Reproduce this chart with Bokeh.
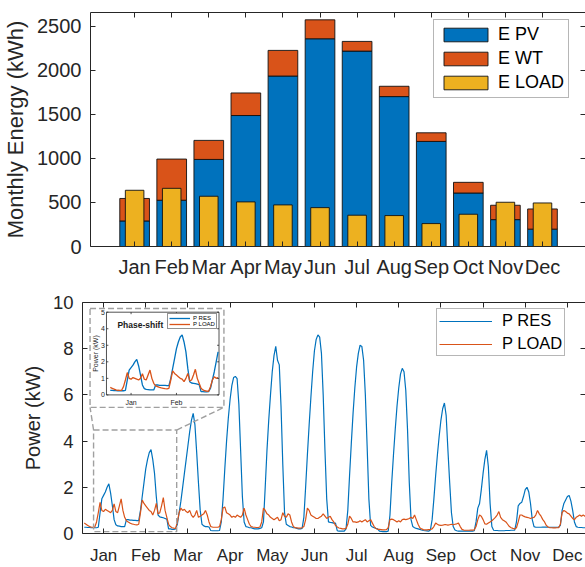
import numpy as np
from bokeh.plotting import figure
from bokeh.models import (Range1d, LinearAxis, FixedTicker, Legend, LegendItem,
                          ColumnDataSource)
from bokeh.embed import file_html
from bokeh.resources import INLINE
from bokeh.core.properties import value

# ---------------- data ----------------
MONTHS = ["Jan", "Feb", "Mar", "Apr", "May", "Jun",
          "Jul", "Aug", "Sep", "Oct", "Nov", "Dec"]
E_PV = [290, 525, 988, 1486, 1934, 2357, 2217, 1701, 1192, 607, 305, 197]
E_WT = [255, 467, 216, 256, 291, 215, 110, 117, 98, 121, 163, 229]
E_LOAD = [638, 660, 570, 506, 472, 441, 355, 351, 260, 366, 502, 494]

# hourly profiles, one representative day (24 h) per month
P_RES = [
    0.27, 0.27, 0.26, 0.26, 0.25, 0.25, 0.25, 0.25, 0.27, 0.9, 1.5, 1.65, 1.8, 2.0, 2.15, 1.75, 1.2, 0.6, 0.38, 0.33, 0.32, 0.3, 0.3, 0.3,
    0.6, 0.6, 0.58, 0.58, 0.57, 0.57, 0.56, 0.56, 1.0, 1.6, 2.2, 2.8, 3.2, 3.5, 3.63, 3.2, 2.6, 1.6, 0.8, 0.72, 0.7, 0.68, 0.65, 0.62,
    0.2, 0.2, 0.18, 0.18, 0.2, 0.4, 0.9, 1.4, 2.0, 2.6, 3.2, 3.8, 4.4, 4.9, 5.2, 4.7, 3.5, 2.2, 1.0, 0.4, 0.33, 0.3, 0.3, 0.28,
    0.13, 0.12, 0.12, 0.12, 0.12, 0.13, 0.5, 1.5, 2.8, 4.0, 5.0, 5.8, 6.4, 6.75, 6.8, 6.7, 5.6, 3.6, 1.6, 0.5, 0.3, 0.28, 0.25, 0.25,
    0.22, 0.2, 0.2, 0.2, 0.22, 0.25, 0.5, 2.0, 3.6, 4.9, 6.0, 7.0, 7.7, 8.1, 7.5, 7.3, 5.5, 3.0, 0.9, 0.4, 0.35, 0.3, 0.28, 0.25,
    0.25, 0.22, 0.2, 0.2, 0.22, 0.7, 2.0, 3.4, 4.7, 5.9, 7.0, 7.9, 8.4, 8.6, 8.5, 7.8, 6.0, 3.6, 1.5, 0.5, 0.48, 0.47, 0.45, 0.45,
    0.12, 0.1, 0.1, 0.1, 0.1, 0.2, 1.0, 2.5, 3.9, 5.2, 6.3, 7.2, 7.8, 8.15, 8.1, 7.5, 6.0, 3.8, 1.5, 0.35, 0.28, 0.25, 0.22, 0.2,
    0.1, 0.09, 0.08, 0.08, 0.08, 0.1, 0.8, 2.2, 3.4, 4.5, 5.5, 6.3, 6.9, 7.15, 7.0, 6.2, 4.5, 2.2, 0.6, 0.3, 0.25, 0.22, 0.2, 0.18,
    0.15, 0.13, 0.12, 0.11, 0.1, 0.15, 0.6, 1.5, 2.5, 3.4, 4.2, 4.9, 5.4, 5.65, 5.1, 3.6, 2.2, 0.9, 0.3, 0.15, 0.12, 0.1, 0.1, 0.1,
    0.1, 0.1, 0.1, 0.1, 0.1, 0.1, 0.12, 0.5, 1.1, 1.3, 1.9, 2.6, 3.2, 3.6, 2.9, 1.3, 0.3, 0.14, 0.13, 0.13, 0.12, 0.12, 0.12, 0.12,
    0.13, 0.13, 0.13, 0.14, 0.14, 0.15, 0.5, 1.2, 1.3, 1.35, 1.6, 1.9, 2.0, 1.8, 1.3, 0.6, 0.3, 0.27, 0.27, 0.27, 0.27, 0.28, 0.28, 0.28,
    0.27, 0.27, 0.27, 0.27, 0.27, 0.27, 0.27, 0.35, 1.0, 1.3, 1.45, 1.6, 1.65, 1.4, 1.0, 0.5, 0.3, 0.27, 0.26, 0.26, 0.25, 0.25, 0.25, 0.25,
]
P_LOAD = [
    0.45, 0.4, 0.35, 0.3, 0.28, 0.27, 0.28, 0.5, 0.9, 1.35, 1.0, 0.95, 1.05, 1.0, 0.95, 0.9, 1.0, 1.28, 0.95, 0.9, 1.2, 1.5, 1.0, 0.7,
    0.55, 0.5, 0.45, 0.42, 0.4, 0.38, 0.37, 0.4, 0.9, 1.45, 1.3, 1.2, 1.1, 1.0, 0.95, 0.8, 1.0, 1.3, 0.85, 0.9, 1.2, 1.55, 1.0, 0.7,
    0.4, 0.3, 0.25, 0.23, 0.22, 0.5, 0.9, 1.1, 1.0, 1.05, 0.95, 0.9, 1.0, 0.8, 0.7, 0.8, 1.0, 0.7, 0.75, 0.8, 0.85, 1.0, 0.8, 0.5,
    0.3, 0.28, 0.27, 0.27, 0.27, 0.3, 0.6, 1.1, 1.15, 0.9, 0.85, 0.8, 0.7, 0.75, 0.7, 0.8, 0.75, 0.7, 0.8, 1.1, 0.8, 0.6, 0.4, 0.3,
    0.28, 0.27, 0.26, 0.26, 0.28, 0.5, 1.1, 1.0, 0.85, 0.8, 0.7, 0.65, 0.6, 0.65, 0.7, 0.55, 0.6, 0.9, 0.75, 0.7, 0.85, 0.8, 0.5, 0.3,
    0.25, 0.24, 0.23, 0.23, 0.25, 0.3, 0.6, 1.1, 1.0, 0.8, 0.75, 0.7, 0.65, 0.65, 0.7, 0.75, 0.85, 0.75, 0.65, 0.7, 0.75, 0.6, 0.5, 0.35,
    0.28, 0.24, 0.22, 0.2, 0.2, 0.22, 0.4, 0.75, 0.65, 0.5, 0.5, 0.48, 0.5, 0.55, 0.5, 0.55, 0.6, 0.5, 0.55, 0.6, 0.45, 0.3, 0.22, 0.18,
    0.18, 0.17, 0.16, 0.16, 0.17, 0.25, 0.6, 0.62, 0.6, 0.55, 0.5, 0.55, 0.5, 0.6, 0.62, 0.6, 0.62, 0.65, 0.7, 0.65, 0.8, 0.6, 0.4, 0.25,
    0.2, 0.17, 0.16, 0.16, 0.17, 0.18, 0.2, 0.3, 0.45, 0.4, 0.36, 0.35, 0.36, 0.38, 0.38, 0.36, 0.38, 0.4, 0.38, 0.4, 0.42, 0.45, 0.3, 0.18,
    0.15, 0.14, 0.14, 0.14, 0.15, 0.15, 0.16, 0.3, 0.6, 0.8, 0.75, 0.6, 0.42, 0.4, 0.45, 0.5, 0.55, 0.62, 0.7, 0.8, 0.95, 0.7, 0.6, 0.55,
    0.5, 0.4, 0.3, 0.25, 0.22, 0.2, 0.25, 0.5, 0.8, 0.8, 0.75, 0.72, 0.7, 0.68, 0.65, 0.68, 0.7, 0.8, 1.0, 0.85, 0.75, 0.6, 0.5, 0.35,
    0.28, 0.25, 0.25, 0.24, 0.24, 0.25, 0.25, 0.4, 0.9, 1.0, 0.95, 0.88, 0.85, 0.75, 0.65, 0.6, 0.7, 0.75, 0.8, 0.75, 0.8, 0.75, 0.7, 0.7,
]
HOURS = list(range(1, len(P_RES) + 1))
MONTH_TICKS_H = [12 + 24 * i for i in range(12)]

# ---------------- style ----------------
FONT = "Liberation Sans"
AX = "#262626"
C_BLUE = "#0072BD"
C_RED = "#D95319"
C_YEL = "#EDB120"
DASH_C = "#a0a0a0"


def frame_axis(ticks, line=True):
    ax = LinearAxis(ticker=FixedTicker(ticks=ticks),
                    major_label_overrides={t: "" for t in ticks},
                    major_label_text_font_size="0px", major_label_standoff=0,
                    major_tick_in=5, major_tick_out=0,
                    minor_tick_in=0, minor_tick_out=0,
                    axis_line_color=AX if line else None,
                    major_tick_line_color=AX)
    return ax


def style_main_axis(ax, size, standoff):
    ax.major_label_text_font = FONT
    ax.major_label_text_font_size = size
    ax.major_label_text_color = AX
    ax.major_label_standoff = standoff
    ax.major_tick_in = 5
    ax.major_tick_out = 0
    ax.minor_tick_in = 0
    ax.minor_tick_out = 0
    ax.axis_line_color = AX
    ax.major_tick_line_color = AX


# ---------------- top: monthly energy ----------------
p1 = figure(width=585, height=280, x_range=Range1d(-0.19, 13.16), y_range=Range1d(0, 2655),
            output_backend="svg", toolbar_location=None,
            min_border_left=90, min_border_right=0, min_border_top=12, min_border_bottom=33)
p1.grid.visible = False
p1.outline_line_color = None
p1.background_fill_color = "white"

xm = list(range(1, 13))
src = ColumnDataSource(dict(x=xm, pv=E_PV, tot=list(np.add(E_PV, E_WT)), load=E_LOAD))
r_pv = p1.vbar(x="x", bottom=0, top="pv", width=0.8, source=src,
               fill_color=C_BLUE, line_color="#111111", line_width=0.9)
r_wt = p1.vbar(x="x", bottom="pv", top="tot", width=0.8, source=src,
               fill_color=C_RED, line_color="#111111", line_width=0.9)
r_ld = p1.vbar(x="x", bottom=0, top="load", width=0.5, source=src,
               fill_color=C_YEL, line_color="#111111", line_width=0.9)

xa = p1.xaxis[0]
xa.ticker = FixedTicker(ticks=xm)
xa.major_label_overrides = {i + 1: m for i, m in enumerate(MONTHS)}
style_main_axis(xa, "20px", 9)
ya = p1.yaxis[0]
ya.ticker = FixedTicker(ticks=[0, 500, 1000, 1500, 2000, 2500])
style_main_axis(ya, "20px", 9)
ya.axis_label = "Monthly Energy (kWh)"
ya.axis_label_text_font = FONT
ya.axis_label_text_font_size = "22px"
ya.axis_label_text_font_style = "normal"
ya.axis_label_text_color = AX
ya.axis_label_standoff = 6
p1.add_layout(frame_axis(xm), "above")
p1.add_layout(frame_axis([0, 500, 1000, 1500, 2000, 2500], line=False), "right")

leg1 = Legend(items=[LegendItem(label="E PV", renderers=[r_pv]),
                     LegendItem(label="E WT", renderers=[r_wt]),
                     LegendItem(label="E LOAD", renderers=[r_ld])],
              location=(343, 148), margin=0, padding=4, spacing=3,
              glyph_width=55, glyph_height=17, label_height=17, label_standoff=5,
              label_text_font=FONT, label_text_font_size="18px", label_text_color="black",
              border_line_color="#6e6e6e", border_line_width=1.5, background_fill_alpha=1)
p1.add_layout(leg1)

# ---------------- bottom: power profiles ----------------
p2 = figure(width=585, height=287, x_range=Range1d(0, 286.3), y_range=Range1d(0, 10),
            output_backend="svg", toolbar_location=None,
            min_border_left=82, min_border_right=0, min_border_top=22, min_border_bottom=32)
p2.grid.visible = False
p2.outline_line_color = None
p2.background_fill_color = "white"

r_res = p2.line(HOURS, P_RES, line_color=C_BLUE, line_width=1.2)
r_load = p2.line(HOURS, P_LOAD, line_color=C_RED, line_width=1.2)

xb = p2.xaxis[0]
xb.ticker = FixedTicker(ticks=MONTH_TICKS_H)
xb.major_label_overrides = {t: m for t, m in zip(MONTH_TICKS_H, MONTHS)}
style_main_axis(xb, "17px", 12)
yb = p2.yaxis[0]
yb.ticker = FixedTicker(ticks=[0, 2, 4, 6, 8, 10])
style_main_axis(yb, "18.5px", 9)
yb.axis_label = "Power (kW)"
yb.axis_label_text_font = FONT
yb.axis_label_text_font_size = "20px"
yb.axis_label_text_font_style = "normal"
yb.axis_label_text_color = AX
yb.axis_label_standoff = 6
p2.add_layout(frame_axis(MONTH_TICKS_H), "above")
p2.add_layout(frame_axis([0, 2, 4, 6, 8, 10], line=False), "right")

leg2 = Legend(items=[LegendItem(label="P RES", renderers=[r_res]),
                     LegendItem(label="P LOAD", renderers=[r_load])],
              location=(354, 177), margin=0, padding=2, spacing=4,
              glyph_width=53, glyph_height=16, label_height=16, label_standoff=10,
              label_text_font=FONT, label_text_font_size="16.5px", label_text_color="black",
              border_line_color="#6e6e6e", border_line_width=1.5, background_fill_alpha=1)
p2.add_layout(leg2)

# ---------------- zoom indication + inset ----------------
ZOOM_BOX = dict(left=6.3, right=53.6, bottom=0.08, top=4.48)      # region in main axes
INSET_BOX = dict(left=4.3, right=80.5, bottom=5.46, top=9.74)     # dashed frame of inset
INSET_AX = dict(left=13.65, right=77.7, bottom=6.0, top=9.58)     # inset axes in main coords
INSET_XLIM = (-1.0, 58.5)
INSET_YLIM = (0, 5)
INSET_YTICKS = [0, 1, 2, 3, 4, 5]
INSET_XTICKS = MONTH_TICKS_H[:2]

p2.quad(**ZOOM_BOX, fill_color=None, line_color=DASH_C, line_width=1.4, line_dash="6 3")
p2.segment(x0=[ZOOM_BOX["left"], ZOOM_BOX["right"]], y0=[ZOOM_BOX["top"]] * 2,
           x1=[INSET_BOX["left"], INSET_BOX["right"]], y1=[INSET_BOX["bottom"]] * 2,
           line_color=DASH_C, line_width=1.4, line_dash="6 3")
p2.quad(**INSET_BOX, fill_color="white", line_color=DASH_C, line_width=1.4, line_dash="6 3")

sub = p2.subplot(x_source=Range1d(*INSET_XLIM), y_source=Range1d(*INSET_YLIM),
                 x_target=Range1d(INSET_AX["left"], INSET_AX["right"]),
                 y_target=Range1d(INSET_AX["bottom"], INSET_AX["top"]))

sub.quad(left=INSET_XLIM[0], right=INSET_XLIM[1], bottom=INSET_YLIM[0], top=INSET_YLIM[1],
         fill_color="white", line_color=AX, line_width=0.8)
n_in = sum(1 for h in HOURS if h <= INSET_XLIM[1])
ri_res = sub.line(HOURS[:n_in], P_RES[:n_in], line_color=C_BLUE, line_width=1.3)
ri_load = sub.line(HOURS[:n_in], P_LOAD[:n_in], line_color=C_RED, line_width=1.3)

x0, x1 = INSET_XLIM
y0, y1 = INSET_YLIM
# inset ticks
sub.segment(x0=[x0] * 6, x1=[x0 + 1.0] * 6, y0=INSET_YTICKS, y1=INSET_YTICKS, line_color=AX, line_width=0.8)
sub.segment(x0=[x1] * 6, x1=[x1 - 1.0] * 6, y0=INSET_YTICKS, y1=INSET_YTICKS, line_color=AX, line_width=0.8)
sub.segment(x0=INSET_XTICKS, x1=INSET_XTICKS, y0=[y0] * 2, y1=[y0 + 0.12] * 2, line_color=AX, line_width=0.8)
sub.segment(x0=INSET_XTICKS, x1=INSET_XTICKS, y0=[y1] * 2, y1=[y1 - 0.12] * 2, line_color=AX, line_width=0.8)
# inset tick labels
sub.text(x=[x0 - 0.9] * 6, y=INSET_YTICKS, text=[str(t) for t in INSET_YTICKS],
         text_font=value(FONT), text_font_size="7px", text_color=AX,
         text_align="right", text_baseline="middle")
sub.text(x=INSET_XTICKS, y=[y0 - 0.22] * 2, text=MONTHS[:2],
         text_font=value(FONT), text_font_size="7px", text_color=AX,
         text_align="center", text_baseline="top")
sub.text(x=[x0 - 5.7], y=[(y0 + y1) / 2], text=["Power (kW)"], angle=np.pi / 2,
         text_font=value(FONT), text_font_size="7px", text_color=AX,
         text_align="center", text_baseline="middle")
sub.text(x=[4.8], y=[4.22], text=["Phase-shift"],
         text_font=value(FONT), text_font_size="8.5px", text_font_style="bold",
         text_color="#1a1a1a", text_align="left", text_baseline="middle")

leg3 = Legend(items=[LegendItem(label="P RES", renderers=[ri_res]),
                     LegendItem(label="P LOAD", renderers=[ri_load])],
              location=(85, 204), margin=0, padding=1, spacing=0,
              glyph_width=21, glyph_height=6, label_height=6, label_standoff=3,
              label_text_font=FONT, label_text_font_size="6px", label_text_color="black",
              border_line_color=AX, border_line_width=1, background_fill_alpha=1)
p2.add_layout(leg3)

# two independent roots (no frame alignment between them), stacked vertically
open("out.html", "w").write(file_html([p1, p2], INLINE))
